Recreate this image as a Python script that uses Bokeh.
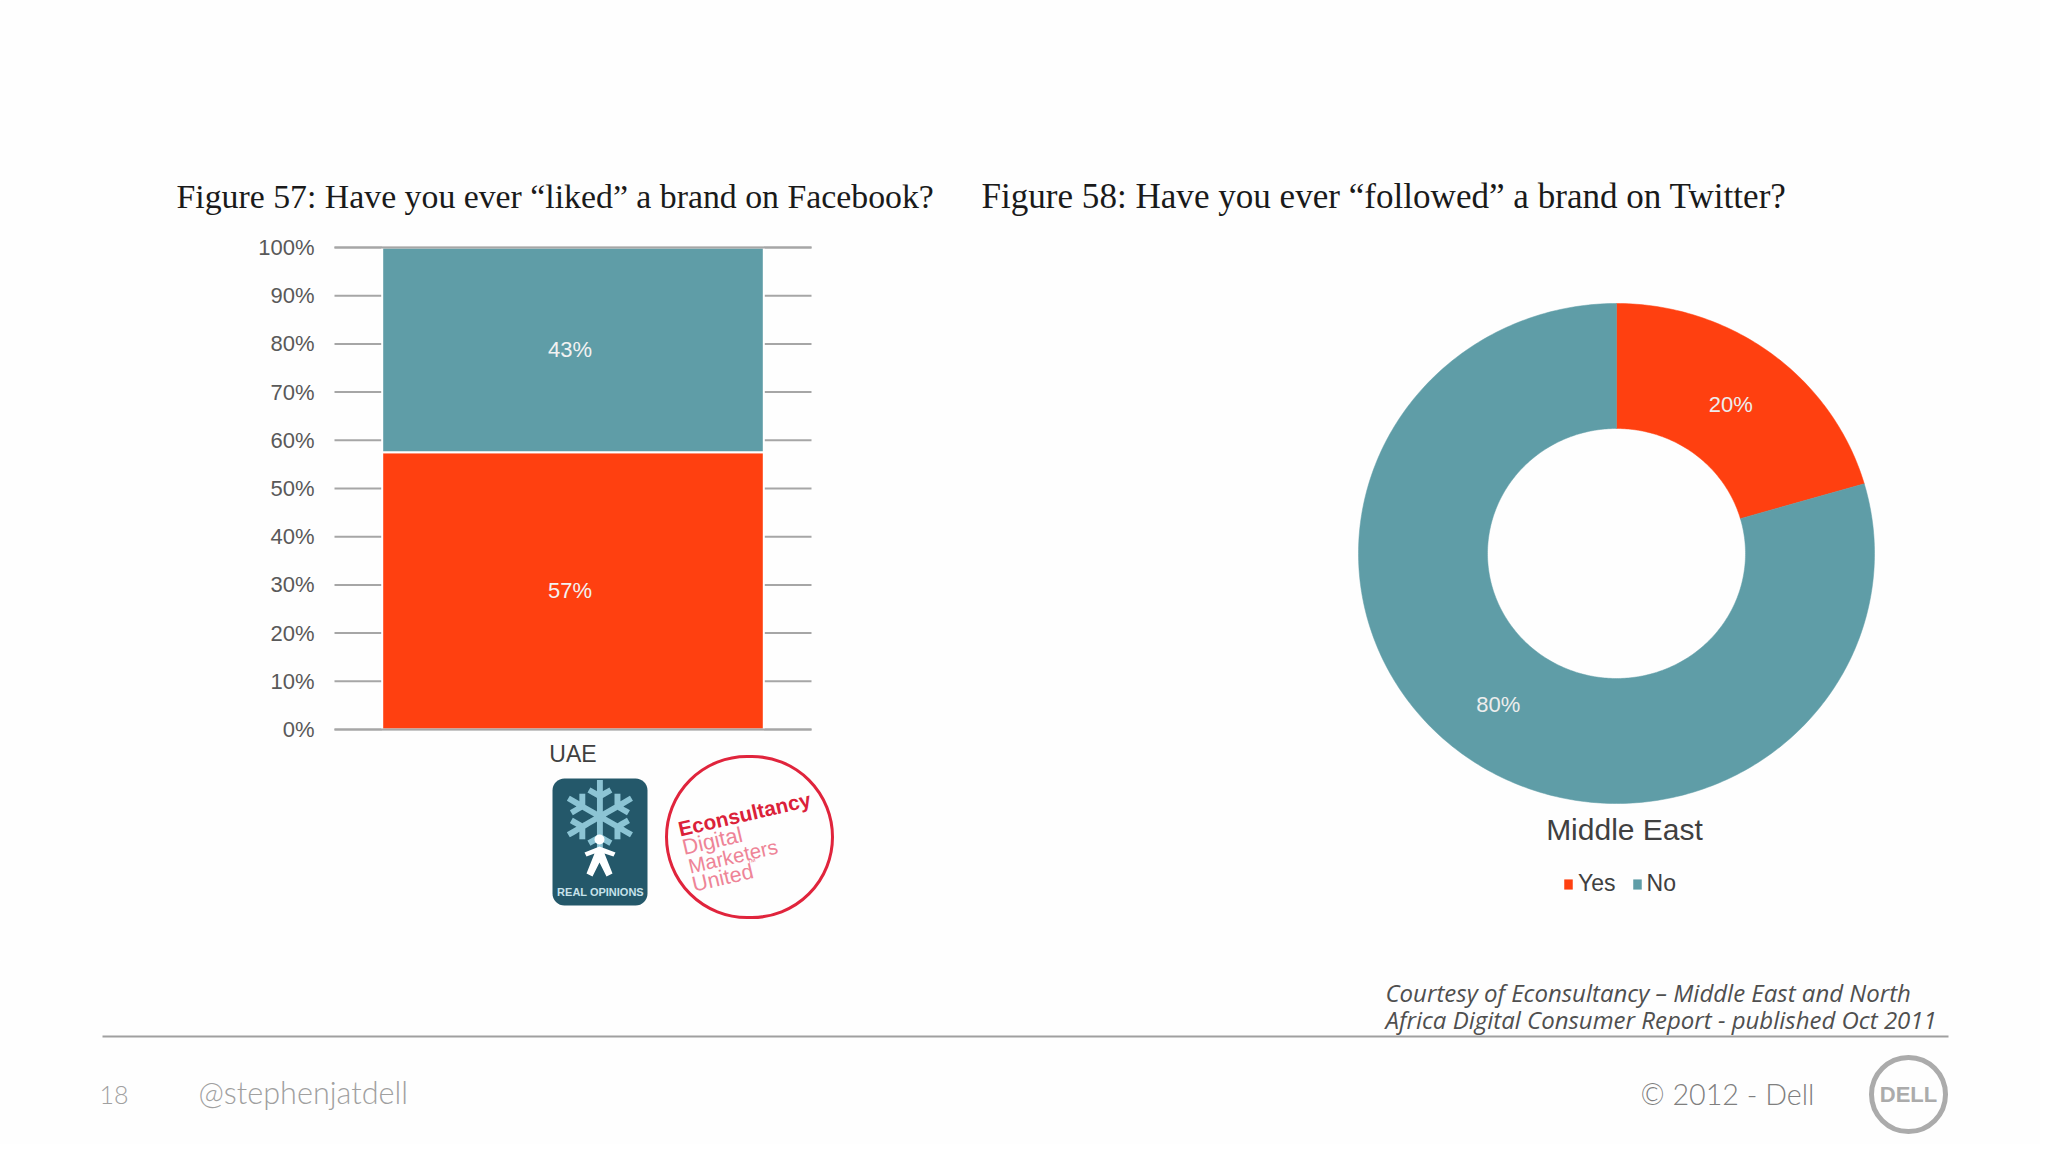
import math
from bokeh.core.properties import value
from bokeh.embed import file_html
from bokeh.resources import INLINE
from bokeh.layouts import column, row
from bokeh.models import (BoxAnnotation, ColumnDataSource, FixedTicker, Label, Legend, LegendItem,
                          PolyAnnotation, PrintfTickFormatter, Range1d)
from bokeh.plotting import figure

# ---- data ----
bar_categories = ["UAE"]
bar_yes = [57.5]
bar_no = [42.5]
bar_texts = ["57%", "43%"]
y_ticks = [0, 10, 20, 30, 40, 50, 60, 70, 80, 90, 100]
donut_labels = ["Yes", "No"]
donut_values = [20.5, 79.5]
donut_texts = ["20%", "80%"]
title_left = "Figure 57: Have you ever “liked” a brand on Facebook?"
title_right = "Figure 58: Have you ever “followed” a brand on Twitter?"
donut_title = "Middle East"
courtesy_1 = "Courtesy of  Econsultancy – Middle East and  North"
courtesy_2 = "Africa Digital Consumer Report -  published Oct 2011"
page_number = "18"
handle = "@stephenjatdell"
copyright_text = "© 2012 - Dell"

RED, TEAL = "#FF4010", "#5F9DA7"
SANS, SERIF, SLIDE, ITAL = "Liberation Sans", "Liberation Serif", "Lato Light", "Open Sans"
BG = "#FEFEFE"

def base(width, height, **kw):
    return figure(width=width, height=height, output_backend="svg", toolbar_location=None, min_border=0,
                  frame_align=False, background_fill_color=BG, border_fill_color=BG,
                  outline_line_color=None, **kw)

def label(p, org, x, y, text, size, color, font=SANS, align="left", baseline="alphabetic",
          style="normal", angle=0):
    if baseline == "alphabetic":
        y -= 0.35 * size
        baseline = "middle"
    p.add_layout(Label(x=x - org[0], y=y - org[1], x_units="canvas", y_units="canvas", text=text,
                       text_font=font, text_font_size=f"{size}px", text_color=color,
                       text_align=align, text_baseline=baseline, text_font_style=style,
                       angle=angle, angle_units="deg"))

def box(p, org, l, r, t, b, fill=None, line=None, lw=0, radius=0):
    p.add_layout(BoxAnnotation(left=l - org[0], right=r - org[0], top=t - org[1], bottom=b - org[1],
                               left_units="canvas", right_units="canvas", top_units="canvas",
                               bottom_units="canvas", fill_color=fill, fill_alpha=1 if fill else 0,
                               line_color=line, line_width=lw, line_alpha=1 if line else 0,
                               border_radius=radius))

# ---- left: stacked bar; frame fills the canvas, axes sit at fixed locations ----
LO = (0, 0)
LW, LH = 960, 960
PX_Y, Y0 = 4.82, 729          # px per percent, pixel of 0 %
PX_X, XC = 477, 572.5         # px per category slot, pixel of slot centre
left = base(LW, LH, x_range=Range1d(-XC / PX_X, (LW - XC) / PX_X),
            y_range=Range1d((Y0 - LH) / PX_Y, Y0 / PX_Y))
xpos = list(range(len(bar_categories)))
src = ColumnDataSource(dict(x=xpos, yes=bar_yes, no=bar_no))
left.segment(x0=[-0.5] * len(y_ticks), x1=[0.5] * len(y_ticks), y0=y_ticks, y1=y_ticks,
             line_color="#A6A6A6", line_width=2)
left.vbar_stack(["yes", "no"], x="x", width=0.80, color=[RED, TEAL], source=src,
                line_color="#FFFFFF", line_width=2)
text_y = [bar_yes[0] / 2, bar_yes[0] + bar_no[0] / 2]
left.text(x=[xpos[0]] * 2, y=text_y, text=bar_texts,
          text_color="#F2F2F2", text_font=value(SANS), text_font_size="22px",
          text_align="center", text_baseline="middle", x_offset=-3)
left.grid.visible = False
left.yaxis.ticker = FixedTicker(ticks=y_ticks)
left.yaxis.formatter = PrintfTickFormatter(format="%d%%")
left.xaxis.ticker = FixedTicker(ticks=xpos)
left.xaxis.major_label_overrides = dict(zip(xpos, bar_categories))
left.yaxis.fixed_location = -0.5
left.xaxis.fixed_location = 0
for ax in (left.xaxis[0], left.yaxis[0]):
    ax.axis_line_color = None
    ax.major_tick_line_color = None
    ax.minor_tick_line_color = None
    ax.major_label_text_font = SANS
    ax.major_label_text_font_size = "22px"
    ax.major_label_text_color = "#595959"
left.xaxis.major_label_text_font_size = "23px"
left.xaxis.major_label_text_color = "#404040"
left.xaxis.major_label_standoff = 5
left.yaxis.major_label_standoff = 14
for v in (y_ticks[0], y_ticks[-1]):
    left.segment(x0=[-0.5], x1=[0.5], y0=[v], y1=[v], line_color="#A6A6A6", line_width=2)
label(left, LO, 176, 208, title_left, 33.8, "#1A1A1A", font=SERIF)

# logo: Real Opinions
box(left, LO, 552, 647, 778, 905, fill="#24586A", radius=12)
label(left, LO, 599, 818, "❄", 100, "#8CC4D4", font="DejaVu Sans", align="center", baseline="middle")
box(left, LO, 594, 604, 834, 844, fill="#FFFFFF", radius=5)
poly = PolyAnnotation(xs=[584, 599, 615, 613, 604, 612, 606, 599, 592, 586, 594, 586],
                      ys=[852, 846, 852, 856, 853, 873, 876, 862, 876, 873, 853, 856],
                      xs_units="canvas", ys_units="canvas", fill_color="#FFFFFF", fill_alpha=1, line_color=None)
left.add_layout(poly)
label(left, LO, 600, 891, "REAL OPINIONS", 11, "#C6E2EA", align="center", baseline="middle", style="bold")

# logo: Econsultancy
box(left, LO, 666, 832, 756, 917, line="#E0243C", lw=3, radius=82)
label(left, LO, 678, 836, "Econsultancy", 20.8, "#DB2139", style="bold", angle=13)
label(left, LO, 682, 855, "Digital", 22, "#EE8497", angle=13)
label(left, LO, 688, 873, "Marketers", 20.5, "#EE8497", angle=13)
label(left, LO, 692, 892, "United", 21.5, "#EE8497", angle=13)
label(left, LO, 747, 866, "™", 9, "#EE8497", angle=13)

# ---- right: donut ----
RO = (960, 0)
RW, RH = 1080, 960
RX, RY, CX, CY = 258, 250, 1616, 553
right = base(RW, RH, x_range=Range1d((RO[0] - CX) / RX, (RO[0] + RW - CX) / RX),
             y_range=Range1d((CY - RH) / RY, CY / RY))
right.axis.visible = False
right.grid.visible = False
total = sum(donut_values)
INNER = 0.5
cum = 0
items = []
text_x, text_yy = [], []
for name, val, col in zip(donut_labels, donut_values, [RED, TEAL]):
    a0 = cum / total * 2 * math.pi
    a1 = (cum + val) / total * 2 * math.pi
    n = max(int(val * 4), 8)
    ang = [a0 + (a1 - a0) * i / n for i in range(n + 1)]
    xs = [math.sin(a) for a in ang] + [INNER * math.sin(a) for a in reversed(ang)]
    ys = [math.cos(a) for a in ang] + [INNER * math.cos(a) for a in reversed(ang)]
    r = right.patch(xs, ys, fill_color=col, line_color=col, line_width=0.5)
    items.append(LegendItem(label=name, renderers=[r]))
    mid = (a0 + a1) / 2
    text_x.append(0.75 * math.sin(mid))
    text_yy.append(0.75 * math.cos(mid))
    cum += val
right.text(x=text_x, y=text_yy, text=donut_texts, text_color="#EDEDED", text_font=value(SANS),
           text_font_size="22px", text_align="center", text_baseline="middle", y_offset=1, x_offset=-2)
legend = Legend(items=items, orientation="horizontal", location=(603, 63), glyph_width=10, glyph_height=12,
                label_text_font=SANS, label_text_font_size="23px", label_text_color="#404040",
                background_fill_alpha=0, border_line_color=None, spacing=16, label_standoff=5,
                margin=0, padding=0, label_height=22)
right.add_layout(legend, "center")
label(right, RO, 981, 208, title_right, 35.1, "#1A1A1A", font=SERIF)
label(right, RO, 1624, 839, donut_title, 30, "#404040", align="center")

# ---- footer ----
FO = (0, 960)
foot = base(2040, 184, x_range=Range1d(0, 2040), y_range=Range1d(0, 184))
foot.axis.visible = False
foot.grid.visible = False
label(foot, FO, 1385, 1000, courtesy_1, 24, "#4F4F4F", font=ITAL, style="italic")
label(foot, FO, 1385, 1027, courtesy_2, 24, "#4F4F4F", font=ITAL, style="italic")
box(foot, FO, 102, 1948, 1035, 1037, fill="#A0A0A0")
label(foot, FO, 99, 1103, page_number, 25, "#A0A0A0", font=SLIDE)
label(foot, FO, 198, 1103, handle, 30.6, "#A0A0A0", font=SLIDE)
label(foot, FO, 1640, 1104, copyright_text, 28.7, "#7F7F7F", font=SLIDE)
box(foot, FO, 1871, 1945, 1057, 1131, line="#ABABAB", lw=5, radius=37)
label(foot, FO, 1908, 1094, "DELL", 22, "#ABABAB", align="center", baseline="middle", style="bold")

page = column(row(left, right, spacing=0), foot, spacing=0)
open("out.html", "w").write(file_html(page, INLINE))
